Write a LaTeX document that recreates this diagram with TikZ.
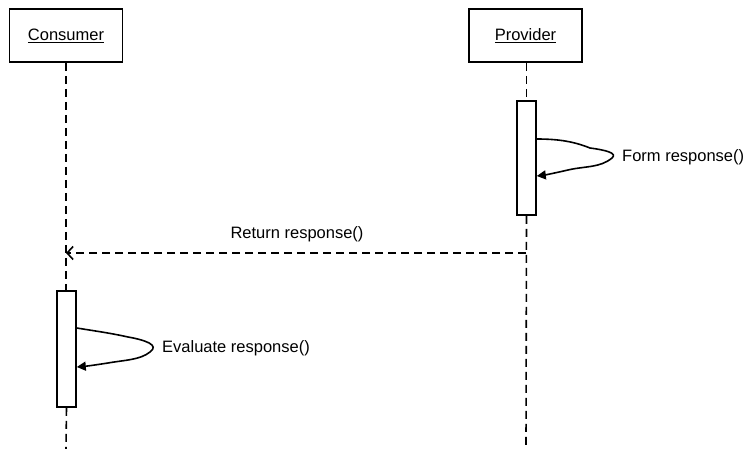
\documentclass[tikz,border=0pt]{standalone}
\usepackage{fontspec}
\setmainfont{Liberation Sans}
\usetikzlibrary{arrows.meta}
\begin{document}
\begin{tikzpicture}[x=1pt,y=-1pt,
  lifebox/.style={draw,line width=1.6pt,minimum width=113pt,minimum height=53pt,inner sep=0pt,font=\fontsize{16.5}{19}\selectfont},
  actbar/.style={draw,line width=1.6pt,fill=white,minimum width=19pt,inner sep=0pt},
  lifeline/.style={line width=1.6pt,dash pattern=on 8pt off 5pt},
  msglabel/.style={font=\fontsize{16.5}{19}\selectfont,inner sep=0pt},
  selfmsg/.style={line width=1.6pt,-{Triangle[length=9pt,width=9pt]}},
  retmsg/.style={line width=1.6pt,dash pattern=on 8pt off 5pt,-{Straight Barb[length=6pt,width=13pt]}}]
\useasboundingbox (0,0) rectangle (748,449);
\node[lifebox] (cons) at (66,35.5) {\underline{Consumer}};
\node[lifebox] (prov) at (525.5,35.5) {\underline{Provider}};
\node[actbar,minimum height=114pt] (pact) at (526.5,158) {};
\node[actbar,minimum height=116pt] (cact) at (66.5,349) {};
\coordinate (consend) at (66,449);
\coordinate (provend) at (526,449);
\coordinate (cmid) at (66,253);
\coordinate (pmid) at (526,253);
\draw[lifeline] (cons.south) -- (cons.south |- cact.north);
\draw[lifeline] (cact.south) -- (consend);
\draw[lifeline] (prov.south -| pact.north) -- (pact.north);
\draw[lifeline] (pact.south) -- (provend);
% self message on provider
\draw[selfmsg] (pact.east |- 0,139) .. controls (560,139) and (575,142) .. (590,148)
  .. controls (605,150) and (618,153) .. (612,158)
  .. controls (600,168) and (585,166) .. (568,170)
  .. controls (555,173) and (545,175) .. (pact.east |- 0,176);
\node[msglabel,anchor=west] (flab) at (622,157) {Form response()};
% return
\draw[retmsg] (pmid) -- (cmid);
\node[msglabel] (rlab) at (297,234) {Return response()};
% self message on consumer
\draw[selfmsg] (cact.east |- 0,328) .. controls (95,331) and (110,333) .. (128,337)
  .. controls (145,340) and (160,345) .. (150,352)
  .. controls (140,360) and (125,360) .. (108,363)
  .. controls (95,365) and (88,366) .. (cact.east |- 0,367);
\node[msglabel,anchor=west] (elab) at (162,348) {Evaluate response()};
\end{tikzpicture}
\end{document}
